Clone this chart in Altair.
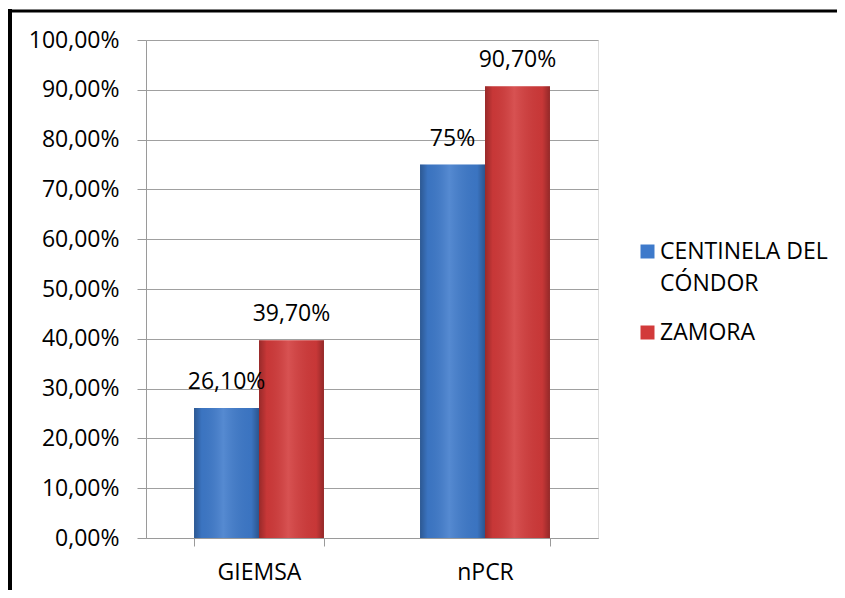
import altair as alt
import pandas as pd

categories = ["GIEMSA", "GIEMSA", "nPCR", "nPCR"]
series = ["CENTINELA DEL CÓNDOR", "ZAMORA", "CENTINELA DEL CÓNDOR", "ZAMORA"]
values = [0.261, 0.397, 0.75, 0.907]
labels = ["26,10%", "39,70%", "75%", "90,70%"]

series_order = ["CENTINELA DEL CÓNDOR", "ZAMORA"]
series_colors = ["#3e7acb", "#d23a3a"]

df = pd.DataFrame({"cat": categories, "series": series, "value": values, "label": labels})

FONT = "Open Sans"
FS = 23

x_enc = alt.X("cat:N", title=None, sort=["GIEMSA", "nPCR"],
              scale=alt.Scale(paddingInner=0.425, paddingOuter=0.2125),
              axis=alt.Axis(labelAngle=0, tickBand="extent", tickSize=8, labelPadding=15,
                            labelFontSize=FS, labelFont=FONT, labelColor="#000000",
                            domainColor="#9a9a9a", tickColor="#9a9a9a"))
y_enc = alt.Y("value:Q", title=None,
              scale=alt.Scale(domain=[0, 1], nice=False),
              axis=alt.Axis(values=[i / 10 for i in range(11)], tickSize=9, labelPadding=18,
                            labelExpr="replace(format(datum.value, '.2%'), '.', ',')",
                            labelFontSize=FS, labelFont=FONT, labelColor="#000000",
                            grid=True, gridColor="#a0a0a0", domainColor="#9a9a9a",
                            tickColor="#9a9a9a"))
xoff = alt.XOffset("series:N", sort=series_order)

base = alt.Chart(df)

bars = base.mark_bar().encode(
    x=x_enc, y=y_enc, xOffset=xoff,
    color=alt.Color("series:N", sort=series_order,
                    scale=alt.Scale(domain=series_order, range=series_colors),
                    legend=alt.Legend(title=None, orient="none", legendX=490, legendY=200,
                                      symbolType="square", symbolSize=196,
                                      symbolStrokeWidth=0,
                                      labelFont=FONT, labelFontSize=FS, labelColor="#000000",
                                      labelLimit=300, rowPadding=25, labelOffset=1,
                                      labelExpr="datum.label == 'CENTINELA DEL CÓNDOR' ? ['CENTINELA DEL', 'CÓNDOR'] : [datum.label, '']")),
)

shade = base.mark_bar(
    fill=alt.Gradient(gradient="linear", x1=0, x2=1, y1=0, y2=0,
                      stops=[alt.GradientStop(offset=0, color="rgba(0,0,0,0.28)"),
                             alt.GradientStop(offset=0.12, color="rgba(0,0,0,0.05)"),
                             alt.GradientStop(offset=0.45, color="rgba(255,255,255,0.12)"),
                             alt.GradientStop(offset=0.88, color="rgba(0,0,0,0.05)"),
                             alt.GradientStop(offset=1, color="rgba(0,0,0,0.3)")])
).encode(x=alt.X("cat:N", sort=["GIEMSA", "nPCR"]), y="value:Q", xOffset=xoff)

text = base.mark_text(font=FONT, fontSize=FS, color="#000000", baseline="middle", dy=-26).encode(
    x=alt.X("cat:N", sort=["GIEMSA", "nPCR"]), y="value:Q", xOffset=xoff, text="label:N")

frame = pd.DataFrame({"a": [0]})
left_border = alt.Chart(frame).mark_rect(color="#000000").encode(
    x=alt.value(-138), x2=alt.value(-134), y=alt.value(-31), y2=alt.value(550))
top_border = alt.Chart(frame).mark_rect(color="#000000").encode(
    x=alt.value(-138), x2=alt.value(691), y=alt.value(-30.5), y2=alt.value(-27.5))

chart = alt.layer(bars, shade, text, left_border, top_border).properties(
    width=452, height=498,
    autosize=alt.AutoSizeParams(type="none"),
    padding={"left": 138, "top": 32, "right": 239, "bottom": 52},
).configure_view(stroke=None).configure(
    background="#ffffff",
    style={"guide-label": {"lineHeight": 32}},
)

chart.save("out.html", embed_options={"renderer": "svg", "actions": False})
